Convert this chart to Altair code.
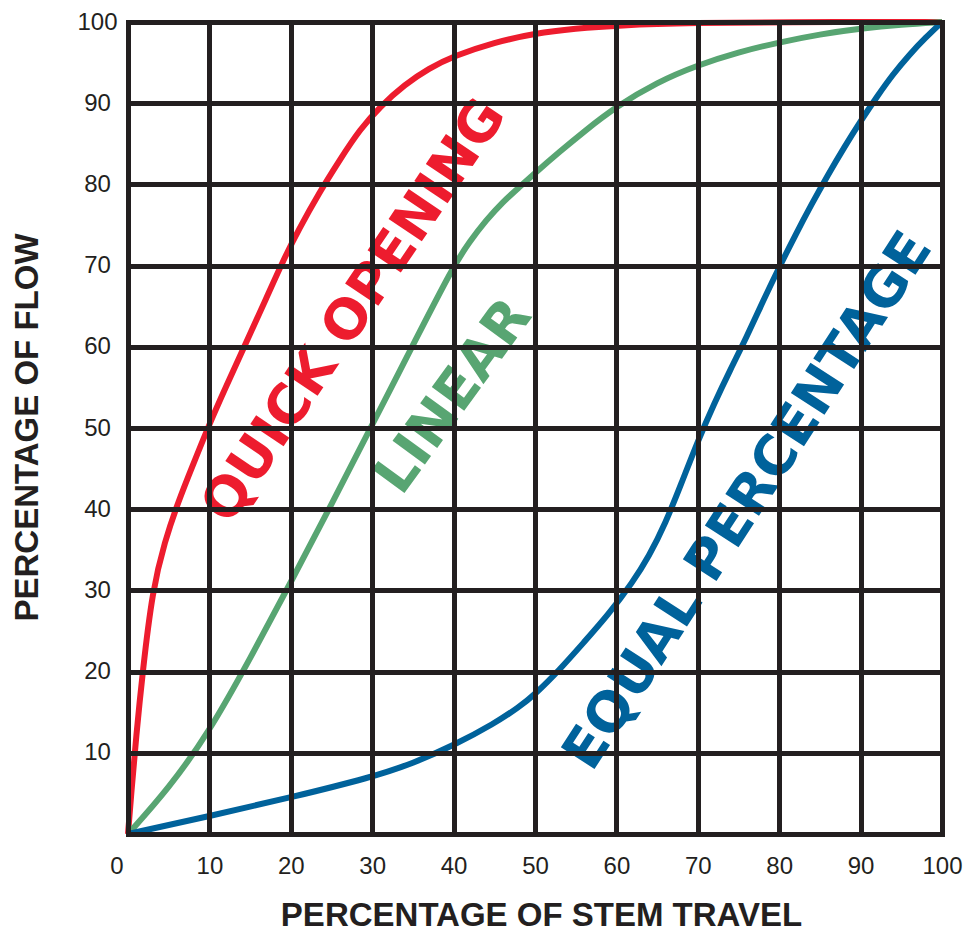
import altair as alt
import pandas as pd

# ---- data ----
series_names = ["QUICK OPENING", "LINEAR", "EQUAL PERCENTAGE"]
series_colors = ["#ED1C2E", "#58A572", "#00629B"]

quick_x = [0, 0.4, 1.0, 1.8, 3.0, 4.5, 6.2, 8.0, 10, 12, 14.5, 17, 19, 21, 23.5, 26, 28.5, 31, 34, 37, 40, 45, 50, 55, 60, 70, 80, 100]
quick_y = [0, 5, 12, 20, 30, 36, 41, 45.5, 50.5, 55, 60.5, 66, 70.5, 74.5, 79, 83, 86.8, 89.6, 92.3, 94.3, 95.8, 97.5, 98.6, 99.2, 99.6, 99.9, 100, 100]

linear_x = [0, 5, 10, 15, 20, 25, 30, 35, 40, 42, 44, 46, 48, 50, 53, 56, 60, 65, 70, 75, 80, 85, 90, 95, 100]
linear_y = [0, 5.6, 12.6, 21.6, 31, 40.6, 50.4, 60.2, 70, 73.0, 75.6, 77.8, 79.6, 81.4, 84.0, 86.5, 89.6, 92.6, 94.7, 96.3, 97.5, 98.5, 99.2, 99.7, 100]

equal_x = [0, 10, 20, 30, 35, 40, 45, 48, 50, 53, 56, 59, 62, 64, 66, 68, 70, 72, 74, 76, 78, 80, 82, 84, 86, 88, 90, 92, 94, 96, 98, 100]
equal_y = [0, 2.2, 4.5, 7.0, 8.7, 10.9, 13.6, 15.6, 17.2, 20.2, 23.6, 27.0, 31.0, 34.2, 38.2, 43.2, 48.4, 53.0, 57.2, 61.2, 65.6, 69.8, 73.8, 77.6, 81.2, 84.6, 87.8, 90.8, 93.6, 96.0, 98.1, 100]

label_x = [27.8, 40.0, 76.2]
label_y = [64.4, 53.9, 41.0]
label_angle = [304, 306, 303]

tick_values = [0, 10, 20, 30, 40, 50, 60, 70, 80, 90, 100]

# ---- tables ----
rows = []
for name, xs, ys in zip(series_names, [quick_x, linear_x, equal_x], [quick_y, linear_y, equal_y]):
    for i, (a, b) in enumerate(zip(xs, ys)):
        rows.append({"series": name, "x": a, "y": b, "i": i})
df = pd.DataFrame(rows)

labels = pd.DataFrame({
    "text": series_names,
    "x": label_x,
    "y": label_y,
    "angle": label_angle,
    "color": series_colors,
})

ink = "#231F20"
xscale = alt.Scale(domain=[0, 100], nice=False, zero=True)
yscale = alt.Scale(domain=[0, 100], nice=False, zero=True)

x_axis = alt.Axis(
    values=tick_values, grid=True, gridColor=ink, gridWidth=5, gridOpacity=1, gridCap="square",
    domain=False, ticks=False, labelFlush=False, labelOverlap=False, labelBound=False,
    labelFont="Liberation Sans", labelFontSize=24, labelColor=ink, labelPadding=20,
    labelAlign={"condition": {"test": "datum.value == 0", "value": "right"}, "value": "center"},
    labelOffset={"condition": {"test": "datum.value == 0", "value": -5}, "value": 0},
    title="PERCENTAGE OF STEM TRAVEL", titleFont="Liberation Sans", titleFontSize=33,
    titleFontWeight="bold", titleColor=ink, titleX=413, titleY=91, titleBaseline="alphabetic",
    titleAlign="center", zindex=1,
)
y_axis = alt.Axis(
    values=tick_values, grid=True, gridColor=ink, gridWidth=5, gridOpacity=1, gridCap="square",
    domain=False, ticks=False, labelFlush=False, labelOverlap=False, labelBound=False,
    labelFont="Liberation Sans", labelFontSize=24, labelColor=ink, labelPadding=31,
    labelAlign="center", labelBaseline="middle",
    labelExpr="datum.value == 0 ? '' : datum.label",
    title="PERCENTAGE OF FLOW", titleFont="Liberation Sans", titleFontSize=33,
    titleFontWeight="bold", titleColor=ink, titleX=-101, titleY=405, titleAngle=270,
    titleBaseline="middle", titleAlign="center", zindex=1,
)

lines = alt.Chart(df).mark_line(strokeWidth=6, interpolate="basis").encode(
    x=alt.X("x:Q", scale=xscale, axis=x_axis),
    y=alt.Y("y:Q", scale=yscale, axis=y_axis),
    color=alt.Color("series:N", scale=alt.Scale(domain=series_names, range=series_colors), legend=None),
    order="i:Q",
)

texts = alt.Chart(labels).mark_text(
    font="DejaVu Sans", fontWeight="bold", fontSize=55, align="center", baseline="middle"
).encode(
    x=alt.X("x:Q", scale=xscale),
    y=alt.Y("y:Q", scale=yscale),
    text="text:N",
    angle=alt.Angle("angle:Q", scale=None),
    color=alt.Color("color:N", scale=None),
)

chart = alt.layer(lines, texts).properties(
    width=814, height=812,
    autosize=alt.AutoSizeParams(type="none"),
    padding={"left": 120, "top": 14, "right": 21, "bottom": 98},
).configure_view(stroke=None).configure(background="white")

chart.save("out.html", embed_options={"renderer": "svg", "actions": False})
